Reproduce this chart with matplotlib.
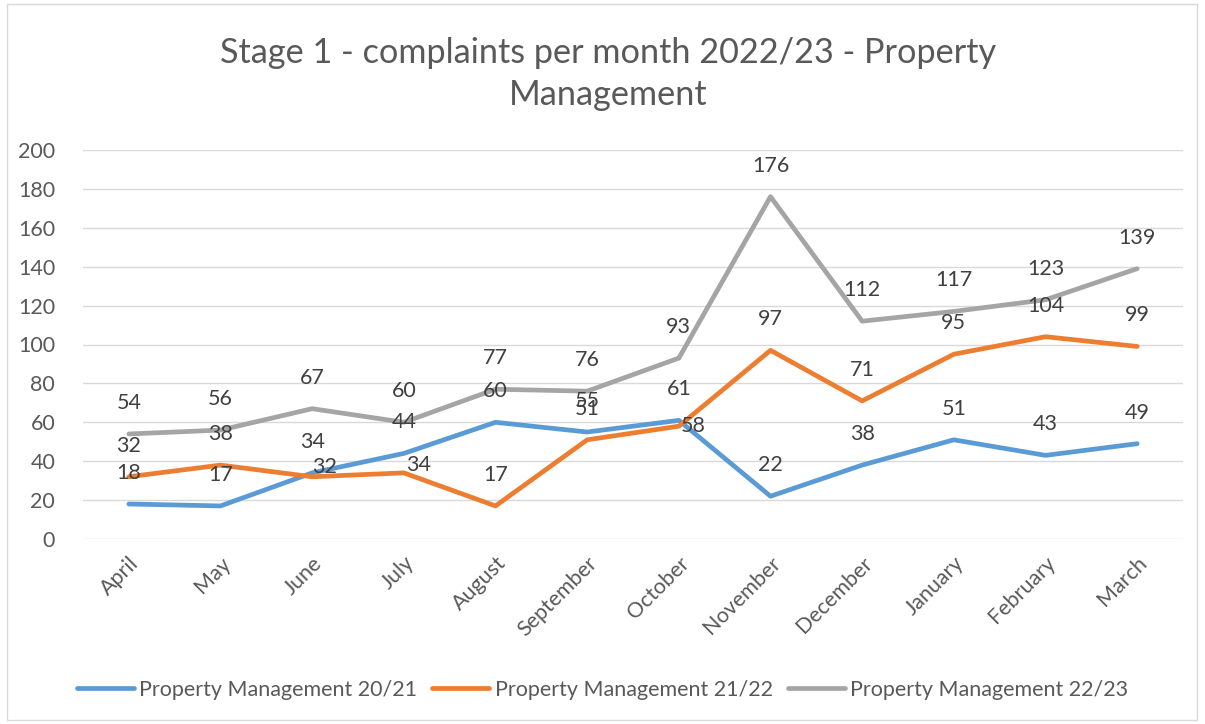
import matplotlib.pyplot as plt
from matplotlib.patches import Rectangle

months = ['April', 'May', 'June', 'July', 'August', 'September', 'October',
          'November', 'December', 'January', 'February', 'March']
pm_2021 = [18, 17, 34, 44, 60, 55, 61, 22, 38, 51, 43, 49]
pm_2122 = [32, 38, 32, 34, 17, 51, 58, 97, 71, 95, 104, 99]
pm_2223 = [54, 56, 67, 60, 77, 76, 93, 176, 112, 117, 123, 139]
series_names = ['Property Management 20/21', 'Property Management 21/22',
                'Property Management 22/23']
colors = ['#5B9BD5', '#ED7D31', '#A5A5A5']

plt.rcParams['font.family'] = ['Lato', 'DejaVu Sans']
txt = '#595959'

fig = plt.figure(figsize=(12.05, 7.24), dpi=100)
ax = fig.add_axes([83 / 1205, 1 - 539 / 724, 1100 / 1205, 389 / 724])
fig.patches.append(Rectangle((7 / 1205, 4 / 724), 1190 / 1205, 716 / 724,
                             transform=fig.transFigure, fill=False,
                             edgecolor='#D9D9D9', linewidth=1))

# labels that were nudged in the original chart (21/22 series)
moved = {'June': (12, 10), 'July': (15, 8), 'October': (14, 0)}

x = list(range(len(months)))
for vals, name, c in zip([pm_2021, pm_2122, pm_2223], series_names, colors):
    ax.plot(x, vals, color=c, linewidth=3.4, label=name, solid_capstyle='round')
    for i, v in enumerate(vals):
        off = (0, 31)
        if name.endswith('21/22') and months[i] in moved:
            off = moved[months[i]]
        ax.annotate(str(v), (i, v), xytext=off, textcoords='offset pixels',
                    ha='center', va='center', fontsize=15.5, color='#404040')

ax.set_xlim(-0.5, len(months) - 0.5)
ax.set_ylim(0, 200)
ax.set_yticks(range(0, 201, 20))
ax.set_xticks(x)
ax.set_xticklabels(months, rotation=45, ha='right', rotation_mode='anchor')
ax.tick_params(axis='both', length=0, labelsize=15.5, labelcolor=txt)
ax.tick_params(axis='y', pad=20)
ax.tick_params(axis='x', pad=10)
ax.grid(axis='y', color='#D9D9D9', linewidth=1)
ax.set_axisbelow(True)
for s in ax.spines.values():
    s.set_visible(False)

fig.text(608 / 1205, 1 - 74 / 724, 'Stage 1 - complaints per month 2022/23 - Property\nManagement',
         ha='center', va='center', fontsize=24.7, color=txt, linespacing=1.4)

fig.legend(loc='center', bbox_to_anchor=(0.5, 1 - 690 / 724), ncol=3, frameon=False,
           fontsize=15.5, labelcolor=txt, handlelength=2.65, columnspacing=0.7,
           handletextpad=0.25)

fig.savefig('out.png', dpi=100)
